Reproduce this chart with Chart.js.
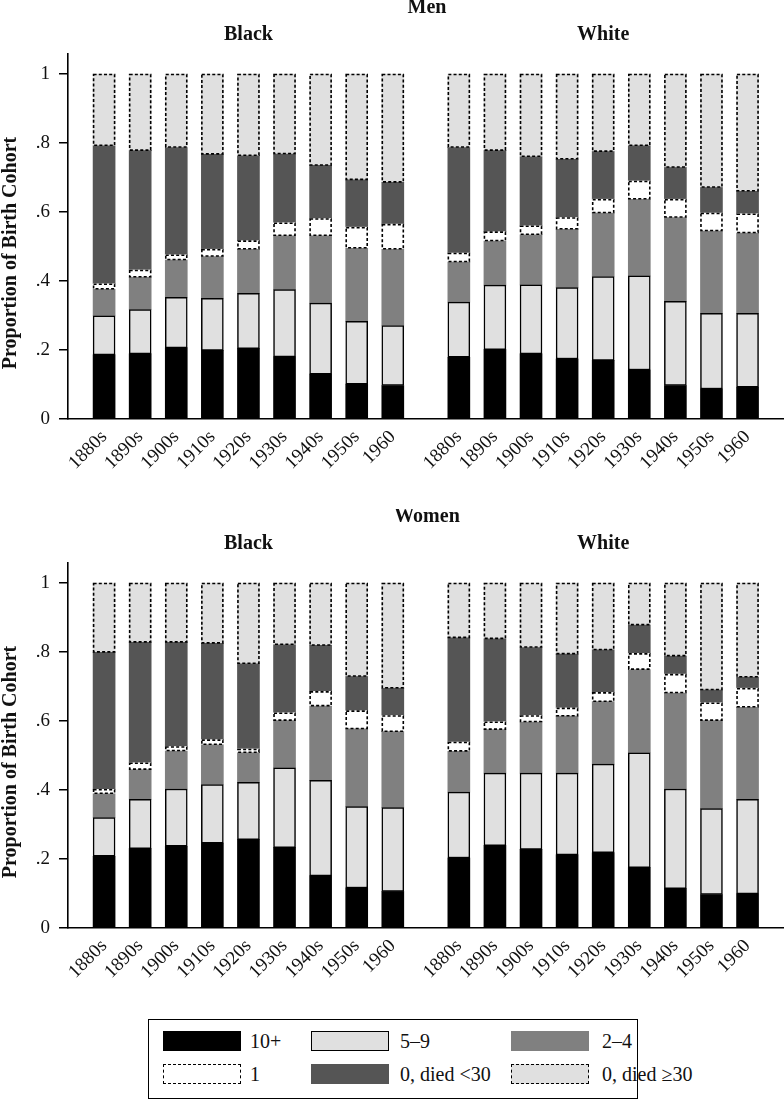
<!DOCTYPE html>
<html><head><meta charset="utf-8">
<script src="https://cdn.jsdelivr.net/npm/chart.js@4.4.0/dist/chart.umd.min.js"></script>
<style>
html,body{margin:0;padding:0;background:#fff;}
body{width:784px;height:1101px;position:relative;overflow:hidden;font-family:"Liberation Serif",serif;}
.panel{position:absolute;left:0;width:784px;height:500px;}
#legend{position:absolute;left:148px;top:1019px;width:490px;height:80px;border:1.5px solid #000;box-sizing:border-box;}
.sw{position:absolute;width:78px;height:20px;box-sizing:border-box;}
.lt{position:absolute;font-size:20px;line-height:20px;color:#111;white-space:nowrap;}
</style></head>
<body>
<div class="panel" style="top:0"><canvas id="men" width="784" height="500"></canvas></div>
<div class="panel" style="top:509px"><canvas id="women" width="784" height="500"></canvas></div>
<div id="legend"></div>
<script>
// ---- Data ----
const cohorts = ['1880s','1890s','1900s','1910s','1920s','1930s','1940s','1950s','1960'];
const groupNames = ['Black','White'];
const panelNames = ['Men','Women'];
const seriesNames = ['10+','5\u20139','2\u20134','1','0, died <30','0, died \u226530'];
const yTickValues = [0,0.2,0.4,0.6,0.8,1];
const yTickLabels = ['0','.2','.4','.6','.8','1'];

// Men, Black
const menBlack10 =   [.186,.189,.206,.199,.204,.180,.130,.101,.097];
const menBlack59 =   [.113,.128,.147,.151,.160,.195,.206,.182,.174];
const menBlack24 =   [.077,.094,.108,.121,.128,.156,.195,.212,.221];
const menBlack1 =    [.016,.021,.015,.021,.025,.038,.050,.061,.073];
const menBlack0u30 = [.400,.346,.311,.275,.246,.199,.154,.137,.121];
const menBlack0o30 = [.208,.222,.213,.233,.237,.232,.265,.307,.314];
// Men, White
const menWhite10 =   [.179,.201,.189,.174,.170,.142,.097,.087,.092];
const menWhite59 =   [.160,.187,.200,.207,.243,.273,.244,.219,.214];
const menWhite24 =   [.116,.128,.145,.169,.184,.222,.243,.239,.233];
const menWhite1 =    [.026,.027,.026,.034,.040,.053,.053,.052,.056];
const menWhite0u30 = [.306,.235,.200,.169,.138,.102,.092,.074,.065];
const menWhite0o30 = [.213,.222,.240,.247,.225,.208,.271,.329,.340];
// Women, Black
const womenBlack10 =   [.208,.230,.237,.246,.256,.233,.151,.116,.106];
const womenBlack59 =   [.112,.143,.166,.170,.166,.231,.277,.236,.243];
const womenBlack24 =   [.069,.086,.110,.115,.086,.137,.215,.225,.220];
const womenBlack1 =    [.013,.020,.013,.015,.011,.023,.043,.053,.047];
const womenBlack0u30 = [.397,.349,.302,.279,.247,.197,.133,.099,.079];
const womenBlack0o30 = [.201,.172,.172,.175,.234,.179,.181,.271,.305];
// Women, White
const womenWhite10 =   [.203,.239,.228,.212,.218,.175,.114,.097,.099];
const womenWhite59 =   [.191,.210,.221,.237,.257,.333,.289,.249,.274];
const womenWhite24 =   [.118,.126,.148,.165,.181,.241,.278,.255,.267];
const womenWhite1 =    [.027,.023,.019,.024,.027,.047,.055,.052,.055];
const womenWhite0u30 = [.302,.240,.197,.156,.123,.082,.052,.037,.032];
const womenWhite0o30 = [.159,.162,.187,.206,.194,.122,.212,.310,.273];

// ---- Styles ----
const fills = ['#000000','#e0e0e0','#808080','#ffffff','#555555','#e0e0e0'];
const solidBorder = [false,true,false,false,false,false];
const dashedBorder = [false,false,false,true,false,true];
const GAP = 9.83;      // x offset of the second group
const X_MAX = 19.84;
const FONT = '"Liberation Serif", "Times New Roman", serif';

const xPos = [];
cohorts.forEach((c,i)=>xPos.push(i+1));
cohorts.forEach((c,i)=>xPos.push(i+1+GAP));
const xLabels = cohorts.concat(cohorts);

const dashPlugin = {
  id:'dashBorders',
  afterDatasetsDraw(chart){
    const ctx = chart.ctx;
    chart.data.datasets.forEach((ds,di)=>{
      if(!ds.dashed) return;
      const meta = chart.getDatasetMeta(di);
      meta.data.forEach(el=>{
        const p = el.getProps(['x','y','base','width'], true);
        const l = p.x - p.width/2, r = p.x + p.width/2;
        const t = Math.min(p.y,p.base), b = Math.max(p.y,p.base);
        ctx.save();
        ctx.strokeStyle = '#000';
        ctx.lineWidth = 1.6;
        ctx.setLineDash([3,2.2]);
        ctx.strokeRect(l+0.5, t+0.5, r-l-1, b-t-1);
        ctx.restore();
      });
    });
  }
};

const titlePlugin = {
  id:'panelTitles',
  afterDraw(chart, args, opts){
    const ctx = chart.ctx, ca = chart.chartArea, xs = chart.scales.x;
    ctx.save();
    ctx.fillStyle = '#111';
    ctx.textAlign = 'center';
    ctx.textBaseline = 'middle';
    ctx.font = 'bold 20px ' + FONT;
    ctx.fillText(opts.main, (ca.left+ca.right)/2 + 1, 8);
    ctx.fillText(groupNames[0], xs.getPixelForValue(5), 35);
    ctx.fillText(groupNames[1], xs.getPixelForValue(5+GAP), 35);
    ctx.translate(11, 253);
    ctx.rotate(-Math.PI/2);
    ctx.fillText('Proportion of Birth Cohort', 0, 0);
    ctx.restore();
  }
};

function makeChart(id, title, groups){
  const datasets = seriesNames.map((name, s)=>{
    const vals = groups[0][s].concat(groups[1][s]);
    return {
      label: name,
      data: vals.map((v,i)=>({x:xPos[i], y:v})),
      backgroundColor: fills[s],
      borderColor: '#000',
      borderWidth: solidBorder[s] ? 1.5 : 0,
      borderSkipped: false,
      barThickness: 22,
      dashed: dashedBorder[s]
    };
  });
  return new Chart(document.getElementById(id), {
    type:'bar',
    data:{datasets},
    plugins:[dashPlugin, titlePlugin],
    options:{
      responsive:false, animation:false, devicePixelRatio:1,
      layout:{padding:{top:54,left:0,right:0,bottom:0}},
      plugins:{legend:{display:false}, tooltip:{enabled:false}, panelTitles:{main:title}},
      scales:{
        x:{
          type:'linear', stacked:true, min:0, max:X_MAX, offset:false,
          grid:{display:false, drawTicks:false},
          border:{display:true, color:'#000', width:1.6},
          afterBuildTicks(scale){ scale.ticks = xPos.map(v=>({value:v})); },
          afterFit(scale){ scale.height = 81; },
          ticks:{autoSkip:false, maxRotation:45, minRotation:45, padding:7,
                 color:'#111', font:{family:FONT, size:19},
                 callback:(v,i)=>xLabels[i]}
        },
        y:{
          stacked:true, min:0, max:1.058,
          grid:{drawOnChartArea:false, drawTicks:true, tickLength:9, color:'#000', lineWidth:1.5},
          border:{display:true, color:'#000', width:1.6},
          afterBuildTicks(scale){ scale.ticks = yTickValues.map(v=>({value:v})); },
          afterFit(scale){ scale.width = 68; },
          ticks:{padding:9, color:'#111', font:{family:FONT, size:19},
                 callback:(v,i)=>yTickLabels[i]}
        }
      }
    }
  });
}

makeChart('men', panelNames[0], [
  [menBlack10,menBlack59,menBlack24,menBlack1,menBlack0u30,menBlack0o30],
  [menWhite10,menWhite59,menWhite24,menWhite1,menWhite0u30,menWhite0o30]
]);
makeChart('women', panelNames[1], [
  [womenBlack10,womenBlack59,womenBlack24,womenBlack1,womenBlack0u30,womenBlack0o30],
  [womenWhite10,womenWhite59,womenWhite24,womenWhite1,womenWhite0u30,womenWhite0o30]
]);

// ---- Legend (HTML) ----
const legend = document.getElementById('legend');
const colX = [14, 162, 362];
const textX = [101, 251, 453];
const rowY = [11, 44];
seriesNames.forEach((name, s)=>{
  const r = Math.floor(s/3), c = s%3;
  const sw = document.createElement('div');
  sw.className = 'sw';
  sw.style.left = colX[c]+'px';
  sw.style.top = rowY[r]+'px';
  sw.style.background = fills[s];
  if(solidBorder[s]) sw.style.border = '1.5px solid #000';
  if(dashedBorder[s]) sw.style.border = '1.5px dashed #000';
  legend.appendChild(sw);
  const t = document.createElement('div');
  t.className = 'lt';
  t.style.left = textX[c]+'px';
  t.style.top = rowY[r]+'px';
  t.textContent = name;
  legend.appendChild(t);
});
</script>
</body></html>
